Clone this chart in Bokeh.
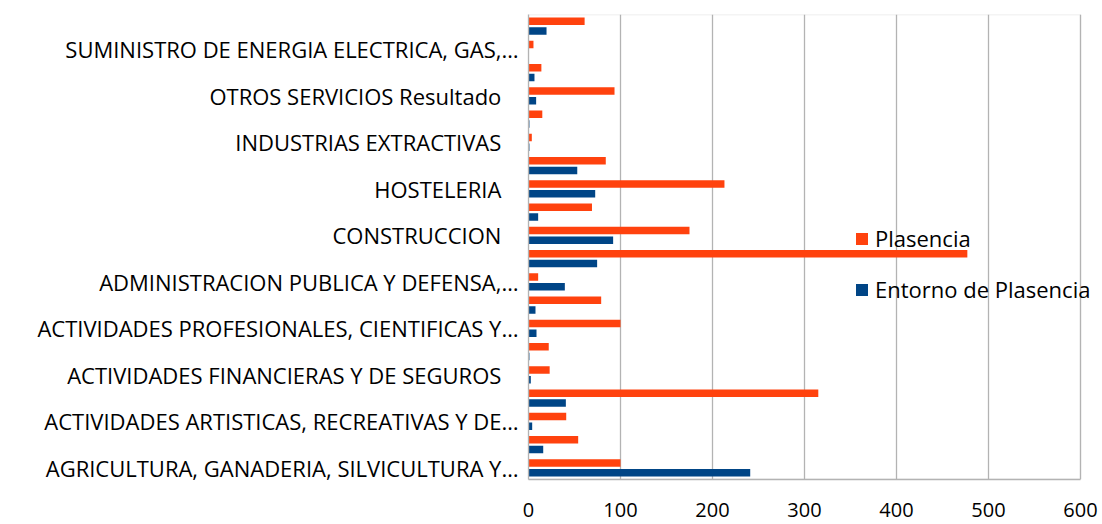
from bokeh.plotting import figure
from bokeh.models import Legend, LegendItem, FixedTicker, ColumnDataSource, Range1d, BoxAnnotation
from bokeh.transform import dodge
from bokeh.embed import file_html
from bokeh.resources import INLINE

categories = [
    "AGRICULTURA, GANADERIA, SILVICULTURA Y PESCA",
    "ACTIVIDADES ADMINISTRATIVAS Y SERVICIOS AUXILIARES",
    "ACTIVIDADES ARTISTICAS, RECREATIVAS Y DE ENTRETENIMIENTO",
    "ACTIVIDADES DE LOS HOGARES",
    "ACTIVIDADES FINANCIERAS Y DE SEGUROS",
    "ACTIVIDADES INMOBILIARIAS",
    "ACTIVIDADES PROFESIONALES, CIENTIFICAS Y TECNICAS",
    "ACTIVIDADES SANITARIAS Y DE SERVICIOS SOCIALES",
    "ADMINISTRACION PUBLICA Y DEFENSA, SEGURIDAD SOCIAL",
    "COMERCIO AL POR MAYOR Y AL POR MENOR",
    "CONSTRUCCION",
    "EDUCACION",
    "HOSTELERIA",
    "INDUSTRIA MANUFACTURERA",
    "INDUSTRIAS EXTRACTIVAS",
    "INFORMACION Y COMUNICACIONES",
    "OTROS SERVICIOS Resultado",
    "SUMINISTRO DE AGUA",
    "SUMINISTRO DE ENERGIA ELECTRICA, GAS, VAPOR",
    "TRANSPORTE Y ALMACENAMIENTO",
]

# axis labels as displayed (only every second category is labelled)
NB = "\u00a0\u00a0\u00a0"
tick_labels = [
    "AGRICULTURA, GANADERIA, SILVICULTURA Y\u2026", "",
    "ACTIVIDADES ARTISTICAS, RECREATIVAS Y DE\u2026", "",
    "ACTIVIDADES FINANCIERAS Y DE SEGUROS" + NB, "",
    "ACTIVIDADES PROFESIONALES, CIENTIFICAS Y\u2026", "",
    "ADMINISTRACION PUBLICA Y DEFENSA,\u2026", "",
    "CONSTRUCCION" + NB, "",
    "HOSTELERIA" + NB, "",
    "INDUSTRIAS EXTRACTIVAS" + NB, "",
    "OTROS SERVICIOS Resultado" + NB, "",
    "SUMINISTRO DE ENERGIA ELECTRICA, GAS,\u2026", "",
]

plasencia = [100, 54, 41, 315, 23, 22, 100, 79, 10.5, 477,
             175, 69, 213, 84, 3.6, 15, 93.5, 14, 5.4, 61]
entorno = [241, 16, 4, 40.6, 2.5, 1, 8.7, 7.6, 39.5, 74.6,
           92, 10.5, 72.5, 53, 1, 1, 8.3, 6.5, 0, 19.6]

x_ticks = [0, 100, 200, 300, 400, 500, 600]

FONT = "Open Sans"
ORANGE = "#FF420E"
BLUE = "#004586"
GRID = "#b3b3b3"

ypos = list(range(len(categories)))
src = ColumnDataSource(dict(y=ypos, cat=categories, p=plasencia, e=entorno))

X_MAX = x_ticks[-1]
# the frame runs a little past 600 so that the legend text is not clipped;
# the visible plot box (0..600) is drawn with a BoxAnnotation and bounded axis lines
p = figure(width=1100, height=522,
           y_range=Range1d(-0.5, len(categories) - 0.5),
           x_range=Range1d(0, X_MAX + 20 / 0.92),
           output_backend="svg", toolbar_location=None,
           min_border_left=528, min_border_right=0, min_border_top=14, min_border_bottom=43)

r1 = p.hbar(y=dodge("y", 0.21), right="p", left=0, height=0.33,
            source=src, color=ORANGE, line_color=None)
r2 = p.hbar(y=dodge("y", -0.21), right="e", left=0, height=0.33,
            source=src, color=BLUE, line_color=None)

p.xaxis.ticker = FixedTicker(ticks=x_ticks)
p.xgrid.ticker = FixedTicker(ticks=x_ticks)
p.xgrid.grid_line_color = GRID
p.xgrid.grid_line_width = 1.3
p.ygrid.grid_line_color = None

p.outline_line_color = None
p.add_layout(BoxAnnotation(left=0, right=X_MAX, bottom=-0.5, top=len(categories) - 0.5,
                           fill_alpha=0, line_color=GRID, line_width=1.3))

for ax in (p.xaxis, p.yaxis):
    ax.axis_line_color = GRID
    ax.axis_line_width = 1.3
    ax.major_tick_line_color = None
    ax.minor_tick_line_color = None
    ax.major_label_text_font = FONT
    ax.major_label_text_color = "#000000"

p.xaxis.bounds = (0, X_MAX)
p.xaxis.major_label_text_font_size = "20px"
p.xaxis.major_label_standoff = 17

y_ticks = [i for i, t in zip(ypos, tick_labels) if t]
p.yaxis.ticker = FixedTicker(ticks=y_ticks)
p.yaxis.major_label_overrides = {i: t for i, t in zip(ypos, tick_labels) if t}
p.yaxis.major_label_text_font_size = "22px"
p.yaxis.major_label_standoff = 4

legend = Legend(items=[LegendItem(label="Plasencia", renderers=[r1]),
                       LegendItem(label="Entorno de Plasencia", renderers=[r2])],
                location=(326, 175), orientation="vertical",
                background_fill_alpha=0, border_line_color=None,
                padding=0, margin=0, spacing=21,
                glyph_width=15, glyph_height=15, label_height=20, label_standoff=6,
                label_text_font=FONT, label_text_font_size="22px", label_text_color="#000000")
p.add_layout(legend)

p.background_fill_color = "white"
p.border_fill_color = "white"

open("out.html", "w").write(file_html(p, INLINE))
